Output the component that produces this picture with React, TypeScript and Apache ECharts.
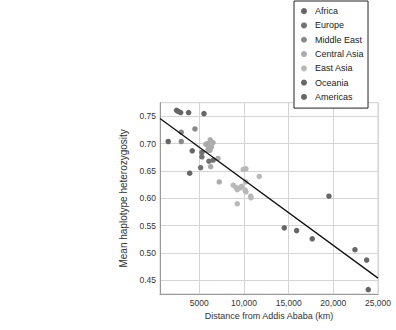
import React, { useEffect, useRef } from "react";
import * as echarts from "echarts";

// Distance from Addis Ababa (km) and mean haplotype heterozygosity per population
const africa: [number, number][] = [
  [2460, 0.761], [2640, 0.759], [2910, 0.757], [3800, 0.757], [5520, 0.755],
  [1520, 0.704], [4210, 0.687], [3920, 0.646],
];
const europe: [number, number][] = [
  [5290, 0.676], [6080, 0.668], [6560, 0.670], [5150, 0.656], [5290, 0.684],
];
const middleEast: [number, number][] = [
  [2980, 0.721], [2980, 0.704], [4510, 0.727],
];
const centralAsia: [number, number][] = [
  [5740, 0.699], [6000, 0.696], [6220, 0.707], [6530, 0.702], [5930, 0.700],
  [5970, 0.689], [6190, 0.688], [6270, 0.658], [7090, 0.673], [7230, 0.630],
  [6350, 0.694],
];
const eastAsia: [number, number][] = [
  [9920, 0.653], [10220, 0.654], [11710, 0.640], [10190, 0.630], [8800, 0.624],
  [9100, 0.620], [9250, 0.616], [9550, 0.619], [9740, 0.622], [10140, 0.615],
  [10220, 0.612], [10750, 0.604], [10780, 0.601], [9250, 0.590],
];
const oceania: [number, number][] = [
  [14510, 0.546], [15890, 0.541],
];
const americas: [number, number][] = [
  [19510, 0.604], [17640, 0.526], [22420, 0.506], [23730, 0.487], [23910, 0.433],
];

// Least-squares fit, drawn between its two end points
const fitLine: [number, number][] = [[600, 0.746], [25000, 0.454]];

const regionNames = ["Africa", "Europe", "Middle East", "Central Asia", "East Asia", "Oceania", "Americas"];
const regionData = [africa, europe, middleEast, centralAsia, eastAsia, oceania, americas];
const regionColors = ["#666666", "#727272", "#8a8a8a", "#ababab", "#b8b8b8", "#666666", "#676767"];

const xTicks = [5000, 10000, 15000, 20000, 25000];
const yTicks = [0.45, 0.5, 0.55, 0.6, 0.65, 0.7, 0.75];

const FONT = "'Liberation Sans', Arial, Helvetica, sans-serif";

export default function App() {
  const ref = useRef<HTMLDivElement>(null);

  useEffect(() => {
    if (!ref.current) return;
    const chart = echarts.init(ref.current, undefined, { renderer: "svg" });

    const scatterSeries = regionNames.map((name, i) => ({
      name,
      type: "scatter" as const,
      data: regionData[i],
      symbol: "circle",
      symbolSize: 5.5,
      itemStyle: { color: regionColors[i], opacity: 1 },
      z: 3,
    }));

    chart.setOption({
      animation: false,
      backgroundColor: "#ffffff",
      textStyle: { fontFamily: FONT },
      grid: {
        left: 160,
        right: 18,
        top: 102.7,
        bottom: 36,
        show: true,
        borderColor: "#cfcfcf",
        borderWidth: 1,
        containLabel: false,
      },
      legend: {
        orient: "vertical",
        left: 294,
        top: 1,
        padding: [3, 4, 4, 7],
        itemGap: 0,
        itemWidth: 6,
        itemHeight: 6,
        icon: "circle",
        backgroundColor: "#ffffff",
        borderColor: "#222222",
        borderWidth: 1,
        z: 10,
        data: regionNames,
        textStyle: {
          fontFamily: FONT,
          fontSize: 9,
          color: "#222222",
          lineHeight: 14.3,
          padding: [0, 0, 0, 3],
        },
      },
      xAxis: {
        type: "value",
        min: 600,
        max: 25000,
        name: "Distance from Addis Ababa (km)",
        nameLocation: "middle",
        nameGap: 16,
        nameTextStyle: { fontFamily: FONT, fontSize: 9, color: "#333333" },
        axisLine: { show: true, lineStyle: { color: "#999999", width: 1 } },
        axisTick: { show: false, customValues: xTicks },
        axisLabel: {
          customValues: xTicks,
          fontFamily: FONT,
          fontSize: 8.5,
          color: "#333333",
          margin: 4,
          formatter: (v: number) =>
            v >= 10000 ? `${Math.floor(v / 1000)},${String(v % 1000).padStart(3, "0")}` : String(v),
        },
        splitLine: { show: true, lineStyle: { color: "#d4d4d4", width: 1 } },
      },
      yAxis: {
        type: "value",
        min: 0.425,
        max: 0.775,
        name: "Mean haplotype heterozygosity",
        nameLocation: "middle",
        nameGap: 26.5,
        nameRotate: 90,
        nameTextStyle: { fontFamily: FONT, fontSize: 10, color: "#333333" },
        axisLine: { show: true, lineStyle: { color: "#999999", width: 1 } },
        axisTick: { show: false, customValues: yTicks },
        axisLabel: {
          customValues: yTicks,
          fontFamily: FONT,
          fontSize: 8.5,
          color: "#333333",
          margin: 4,
          formatter: (v: number) => v.toFixed(2),
        },
        splitLine: { show: true, lineStyle: { color: "#d4d4d4", width: 1 } },
      },
      series: [
        ...scatterSeries,
        {
          name: "fit",
          type: "line",
          data: fitLine,
          symbol: "none",
          lineStyle: { color: "#111111", width: 1.3 },
          z: 4,
          silent: true,
        },
      ],
    });

    return () => chart.dispose();
  }, []);

  return <div ref={ref} style={{ width: 396, height: 330, position: "absolute", left: 0, top: 0 }} />;
}
